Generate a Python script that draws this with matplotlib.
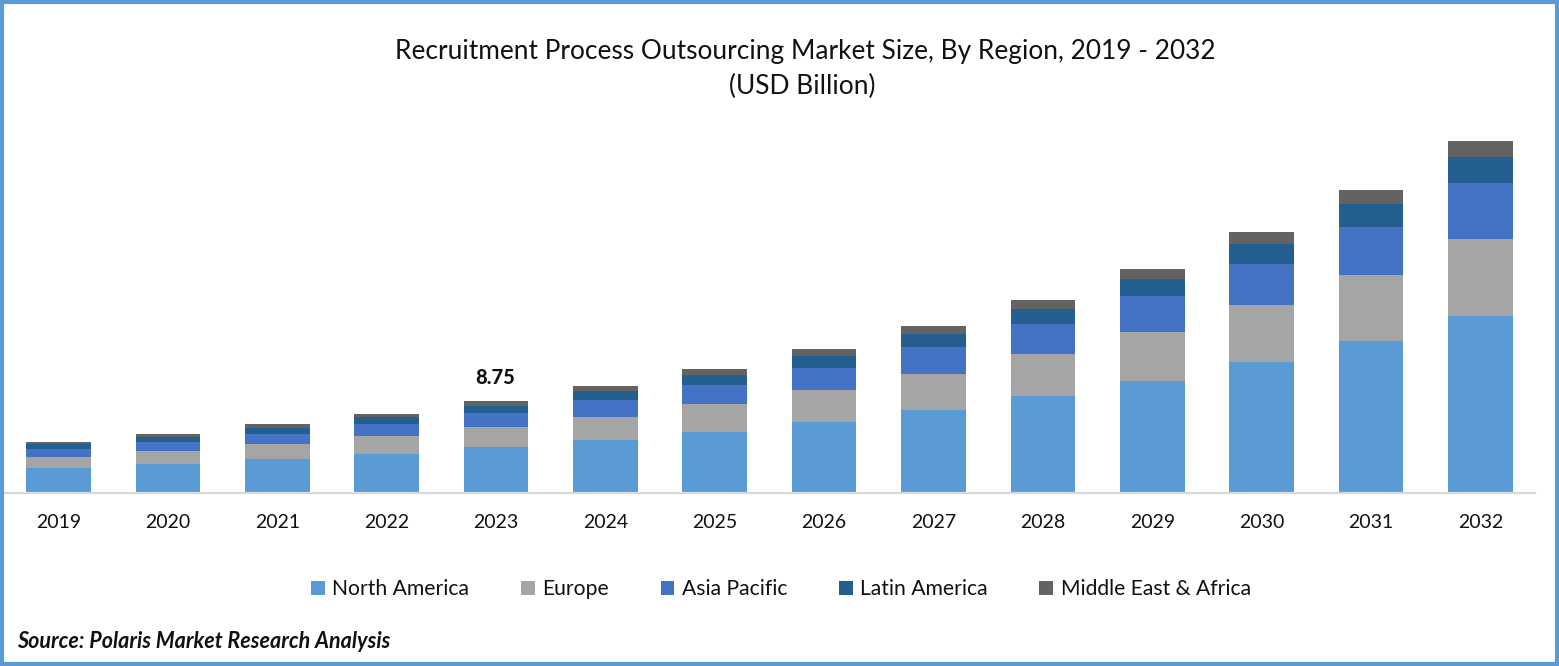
import matplotlib
matplotlib.use('Agg')
import matplotlib.pyplot as plt
from matplotlib.patches import Rectangle
import numpy as np

years = ['2019', '2020', '2021', '2022', '2023', '2024', '2025',
         '2026', '2027', '2028', '2029', '2030', '2031', '2032']
north_america = [2.31, 2.69, 3.17, 3.65, 4.33, 5.00, 5.77, 6.73, 7.88, 9.23, 10.67, 12.50, 14.52, 16.92]
europe = [1.06, 1.25, 1.44, 1.73, 1.92, 2.21, 2.69, 3.08, 3.46, 4.04, 4.71, 5.48, 6.35, 7.40]
asia_pacific = [0.77, 0.87, 0.96, 1.15, 1.35, 1.63, 1.83, 2.12, 2.60, 2.88, 3.46, 3.94, 4.62, 5.38]
latin_america = [0.48, 0.48, 0.58, 0.67, 0.67, 0.87, 0.96, 1.15, 1.25, 1.44, 1.63, 1.92, 2.21, 2.50]
mea = [0.19, 0.29, 0.38, 0.29, 0.48, 0.48, 0.58, 0.67, 0.77, 0.87, 0.96, 1.15, 1.35, 1.54]

series = [('North America', north_america, '#5B9BD5'),
          ('Europe', europe, '#A5A5A5'),
          ('Asia Pacific', asia_pacific, '#4472C4'),
          ('Latin America', latin_america, '#255E91'),
          ('Middle East & Africa', mea, '#636363')]

W, H = 1559, 666
plt.rcParams['font.family'] = ['Lato', 'DejaVu Sans']

fig = plt.figure(figsize=(W / 100, H / 100), dpi=100)
ax = fig.add_axes([3.8 / W, (H - 492) / H, 1531.3 / W, 392.5 / H])

x = np.arange(len(years))
bottom = np.zeros(len(years))
for name, values, color in series:
    ax.bar(x, values, width=0.59, bottom=bottom, color=color, label=name)
    bottom += np.array(values)

ax.set_xlim(-0.5, 13.5)
ax.set_ylim(0, 37.74)
ax.set_xticks(x, years)
ax.set_yticks([])
ax.tick_params(axis='x', length=0, pad=15, labelsize=14, labelcolor='#111111')

# Eliminate all spines except the baseline
for side in ['top', 'left', 'right']:
    ax.spines[side].set_visible(False)
ax.spines['bottom'].set_color('#D9D9D9')
ax.spines['bottom'].set_linewidth(1.6)
ax.spines['bottom'].set_position(('outward', 0.7))

# only 2023 carries a total
ax.text(3.99, bottom[4] + 1.32, '8.75', ha='center', va='bottom', fontsize=14.5, fontweight='black', color='#111111')

fig.text(805.5 / W, 1 - 51.5 / H, 'Recruitment Process Outsourcing Market Size, By Region, 2019 - 2032',
         ha='center', va='center', fontsize=18.9, color='#111111')
fig.text(802 / W, 1 - 86 / H, '(USD Billion)', ha='center', va='center', fontsize=19, color='#111111')

fig.legend(loc='center', bbox_to_anchor=(781 / W, 1 - 589 / H), ncol=5, frameon=False,
           fontsize=15.2, handlelength=0.65, handleheight=0.65, handletextpad=0.35,
           columnspacing=2.45, labelcolor='#111111')

fig.text(17 / W, 1 - 641 / H, 'Source: Polaris Market Research Analysis', ha='left', va='center',
         fontsize=15.5, fontweight='bold', fontstyle='italic', color='#111111')

# blue frame round the whole picture
fig.add_artist(Rectangle((2 / W, 2 / H), (W - 4) / W, (H - 4) / H, transform=fig.transFigure,
                         fill=False, edgecolor='#5B9BD5', linewidth=3))

fig.savefig('out.png', dpi=100, facecolor='white')
